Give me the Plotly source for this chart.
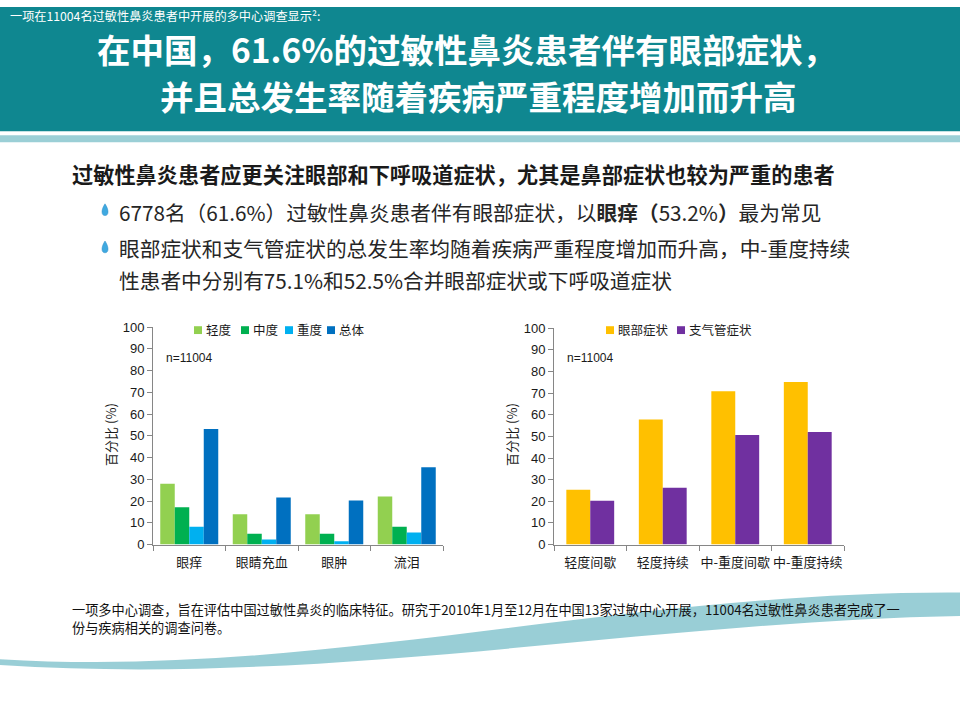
import plotly.graph_objects as go

W, H = 960, 720

# chart data
symptoms = ["眼痒", "眼睛充血", "眼肿", "流泪"]
severity_names = ["轻度", "中度", "重度", "总体"]
mild = [28.0, 14.0, 14.0, 22.1]
moderate = [17.2, 5.0, 5.0, 8.2]
severe = [8.2, 2.3, 1.5, 5.5]
overall = [53.2, 21.7, 20.3, 35.6]

groups = ["轻度间歇", "轻度持续", "中-重度间歇", "中-重度持续"]
combo_names = ["眼部症状", "支气管症状"]
eye_sym = [25.3, 57.8, 70.8, 75.1]
bronch_sym = [20.3, 26.2, 50.6, 52.0]

sev_colors = ["#92D050", "#00B050", "#00B0F0", "#0070C0"]
combo_colors = ["#FFC000", "#7030A0"]

CJK = "Noto Sans CJK SC, Liberation Sans, sans-serif"
NUM = "Liberation Sans, Noto Sans CJK SC, sans-serif"


def px(x):
    return x / W


def py(y):
    return 1 - y / H


fig = go.Figure()

# left chart
for name, vals, col in zip(severity_names, [mild, moderate, severe, overall], sev_colors):
    fig.add_trace(go.Bar(x=symptoms, y=vals, name=name, marker_color=col,
                         marker_line_width=0, xaxis="x", yaxis="y", showlegend=False))

# right chart, bars placed with explicit width/offset
for i, (name, vals, col) in enumerate(zip(combo_names, [eye_sym, bronch_sym], combo_colors)):
    fig.add_trace(go.Bar(x=groups, y=vals, name=name, marker_color=col,
                         marker_line_width=0, width=0.33, offset=-0.33 + 0.33 * i,
                         xaxis="x2", yaxis="y2", showlegend=False))

axis_common = dict(showline=True, linecolor="#868686", linewidth=1, ticks="outside",
                   tickcolor="#868686", ticklen=5, showgrid=False, zeroline=False)

shapes = []
annotations = []


def note(x, y, text, size, color="#1A1A1A", anchor="left", **kw):
    annotations.append(dict(x=px(x), y=py(y), xref="paper", yref="paper", xanchor=anchor,
                            yanchor="middle", showarrow=False, text=text,
                            font=dict(family=kw.pop("family", CJK), size=size, color=color), **kw))


# header band
shapes.append(dict(type="rect", xref="paper", yref="paper", x0=0, x1=1, y0=py(127), y1=1,
                   fillcolor="#0F8790", line_width=0, layer="below"))
shapes.append(dict(type="rect", xref="paper", yref="paper", x0=0, x1=1, y0=py(138), y1=py(131),
                   fillcolor="#9BCFD6", line_width=0, layer="below"))

# decorative wave at the bottom
wave = ("M {0},{1} C {2},{3} {4},{5} {6},{7} L {8},{9} C {10},{11} {12},{13} {14},{15} Z").format(
    px(0), py(666), px(320), py(686), px(620), py(596), px(960), py(598),
    px(960), py(622), px(640), py(628), px(330), py(694), px(0), py(672))
shapes.append(dict(type="path", xref="paper", yref="paper", path=wave,
                   fillcolor="#8EC9D2", line_width=0, layer="below", opacity=0.9))

# header texts
note(8, 9, "一项在11004名过敏性鼻炎患者中开展的多中心调查显示²:", 12.2, "white")
note(466, 42.5, "<b>在中国，61.6%的过敏性鼻炎患者伴有眼部症状，</b>", 33.5, "white", anchor="center")
note(478, 90.5, "<b>并且总发生率随着疾病严重程度增加而升高</b>", 33.5, "white", anchor="center")

# body text
note(70, 170, "<b>过敏性鼻炎患者应更关注眼部和下呼吸道症状，尤其是鼻部症状也较为严重的患者</b>", 21.2)
bullets = [
    (209, "6778名（61.6%）过敏性鼻炎患者伴有眼部症状，以<b>眼痒（</b>53.2%<b>）</b>最为常见"),
    (246, "眼部症状和支气管症状的总发生率均随着疾病严重程度增加而升高，中-重度持续"),
    (279, "性患者中分别有75.1%和52.5%合并眼部症状或下呼吸道症状"),
]
for yy, txt in bullets:
    note(117, yy, txt, 20.7, "#262626")

# droplet bullets
for yy in [208, 246]:
    drop = "M {0},{1} C {2},{3} {4},{5} {6},{7} C {8},{9} {10},{11} {0},{1} Z".format(
        px(105), py(yy - 7), px(101), py(yy - 1), px(101), py(yy + 5), px(105), py(yy + 5),
        px(109), py(yy + 5), px(109), py(yy - 1))
    shapes.append(dict(type="path", xref="paper", yref="paper", path=drop,
                       fillcolor="#3FA9E0", line=dict(color="#2C8CC8", width=0.5)))

# footnote
note(70, 615, "一项多中心调查，旨在评估中国过敏性鼻炎的临床特征。研究于2010年1月至12月在中国13家过敏中心开展，11004名过敏性鼻炎患者完成了一",
     13.2, "#111111")
note(70, 634, "份与疾病相关的调查问卷。", 13.2, "#111111")

# n labels and y titles
for xx in [164, 565]:
    note(xx, 358, "n=11004", 12, family=NUM)
for xx in [111, 512]:
    note(xx, 437, "百分比 (%)", 13, anchor="center", textangle=-90)


# custom legends
def add_legend(names, colors, x_start, gaps):
    x = x_start
    for name, col, g in zip(names, colors, gaps):
        shapes.append(dict(type="rect", xref="paper", yref="paper", x0=px(x), x1=px(x + 8),
                           y0=py(334), y1=py(326), fillcolor=col, line_width=0))
        note(x + 10, 329, name, 12.5)
        x += g


add_legend(severity_names, sev_colors, 194, [47, 44, 42, 0])
add_legend(combo_names, combo_colors, 606, [71, 0])

fig.update_layout(
    width=W, height=H,
    margin=dict(l=0, r=0, t=0, b=0),
    paper_bgcolor="white", plot_bgcolor="rgba(0,0,0,0)",
    barmode="group", bargap=0.2, bargroupgap=0,
    xaxis=dict(domain=[px(153), px(443)], anchor="y", tickson="boundaries", tickangle=0,
               ticklabelstandoff=6,
               tickfont=dict(family=CJK, size=13, color="#1A1A1A"), **axis_common),
    yaxis=dict(domain=[py(549), py(327)], anchor="x", range=[0, 100], dtick=10,
               tickfont=dict(family=NUM, size=13, color="#1A1A1A"), **axis_common),
    xaxis2=dict(domain=[px(554), px(844)], anchor="y2", tickson="boundaries", tickangle=0,
                ticklabelstandoff=6,
                tickfont=dict(family=CJK, size=13, color="#1A1A1A"), **axis_common),
    yaxis2=dict(domain=[py(549), py(328)], anchor="x2", range=[0, 100], dtick=10,
                tickfont=dict(family=NUM, size=13, color="#1A1A1A"), **axis_common),
    shapes=shapes,
    annotations=annotations,
    showlegend=False,
)

# page margin off so the slide sits at the window corner
fig.write_html("out.html", config={"displayModeBar": False},
               post_script="document.body.style.margin='0';document.body.style.overflow='hidden';")
